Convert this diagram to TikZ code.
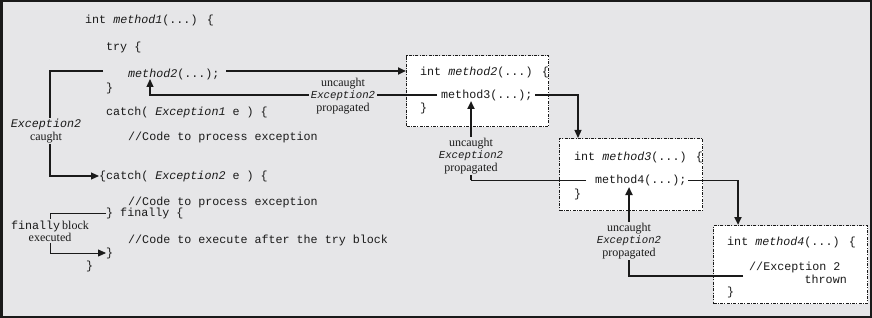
\documentclass[tikz,border=0pt]{standalone}
\usepackage{fontspec}
\setmainfont{Liberation Serif}
\newfontfamily\cmono{Liberation Mono}
\usetikzlibrary{arrows.meta}
\definecolor{bgc}{HTML}{E6E6E8}
\definecolor{ink}{HTML}{1A1A1A}
\newcommand{\codefnt}{\cmono\fontsize{11.7}{13}\selectfont}
\newcommand{\lblmono}{\cmono\fontsize{10.7}{12}\selectfont}
\newcommand{\lblfnt}{\fontsize{12}{12.2}\selectfont}
\tikzset{
  code/.style={font=\codefnt, anchor=west, inner sep=0pt, text=ink},
  lbl/.style={font=\lblfnt, align=center, inner sep=1.5pt, fill=bgc, text=ink},
  mbox/.style={draw=ink, fill=white, line width=1.1pt, dash pattern=on 3pt off 1.3pt on 1pt off 1.3pt, anchor=north west, inner sep=0pt},
  arr/.style={-{Triangle[length=8pt,width=7pt]}},
  thn/.style={draw=ink, line width=0.8pt},
  med/.style={draw=ink, line width=1.2pt},
  thk/.style={draw=ink, line width=2pt},
}
\begin{document}
\begin{tikzpicture}[x=1pt,y=-1pt]
\useasboundingbox (0,0) rectangle (872,318);
\draw[fill=bgc, draw=ink, line width=2.5pt] (1.25,1.25) rectangle (870.75,316.75);

% boxes
\node[mbox, minimum width=142pt, minimum height=71pt] (b2) at (406,55) {};
\node[mbox, minimum width=143pt, minimum height=72pt] (b3) at (559,138) {};
\node[mbox, minimum width=154pt, minimum height=78pt] (b4) at (713,225) {};

% method1 code
\node[code] (l1) at (85,20) {int \textit{method1}(...) \{};
\node[code] (l2) at (106,47) {try \{};
\node[code] (m2call) at (128,74) {\textit{method2}(...);};
\node[code] (l4) at (106,88) {\}};
\node[code] (l5) at (106,112) {catch( \textit{Exception1} e ) \{};
\node[code] (l6) at (128,137) {//Code to process exception};
\node[code] (l7) at (99,176) {\{catch( \textit{Exception2} e ) \{};
\node[code] (l8) at (128,202) {//Code to process exception};
\node[code] (l9) at (106,213) {\} finally \{};
\node[code] (l10) at (128,240) {//Code to execute after the try block};
\node[code] (l11) at (106,253) {\}};
\node[code] (l12) at (86,266) {\}};

% box texts
\node[code] (b2a) at (420,72) {int \textit{method2}(...) \{};
\node[code] (m3call) at (441,95) {method3(...);};
\node[code] (b2c) at (420,108) {\}};
\node[code] (b3a) at (574,157) {int \textit{method3}(...) \{};
\node[code] (m4call) at (595,180) {method4(...);};
\node[code] (b3c) at (574,194) {\}};
\node[code] (b4a) at (727,242) {int \textit{method4}(...) \{};
\node[code] (b4b) at (749,267) {//Exception 2};
\node[code, anchor=east] (b4c) at (847,279) {thrown};
\node[code] (b4d) at (727,292) {\}};

% coordinates
\coordinate (c2r) at (103,71);
\coordinate (c2l) at (50,71);
\coordinate (f1) at (50,213);
\coordinate (a1) at (226,71);
\coordinate (r1s) at (437,95);
\coordinate (r1c) at (150,95);
\coordinate (r1t) at (150,79);
\coordinate (o3s) at (535,95);
\coordinate (o3c) at (578,95);
\coordinate (r2s) at (586,180);
\coordinate (r2c) at (471,180);
\coordinate (r2t) at (471,101);
\coordinate (o4s) at (688,180);
\coordinate (o4c) at (738,180);
\coordinate (r3s) at (743,276);
\coordinate (r3c) at (629,276);
\coordinate (r3t) at (629,187);

% left labels
\node[font=\lblfnt, align=center, inner sep=1pt, text=ink] (caught) at (46,131) {{\codefnt\textit{Exception2}}\\caught};
\node[font=\lblfnt, align=center, inner sep=1pt, text=ink] (fin) at (50,231) {{\codefnt finally}\,block\\executed};

% caught bracket
\draw[med] (c2r) -- (c2l) -- (c2l |- caught.north);
\draw[med, arr] (c2l |- caught.south) -- (c2l |- l7) -- (l7.west);
% finally bracket
\draw[thn] (l9.west) -- (f1) -- (f1 |- fin.north);
\draw[thn, arr] (f1 |- fin.south) -- (f1 |- l11) -- (l11.west);

% call method2
\draw[thk, arr] (a1) -- (a1 -| b2.west);
% return 1
\draw[med, arr] (r1s) -- (r1c) -- (r1t);
\node[lbl] (lab1) at (343,96) {uncaught\\{\lblmono\textit{Exception2}}\\propagated};
% method3 out
\draw[med, arr] (o3s) -- (o3c) -- (o3c |- b3.north);
% return 2
\draw[thn] (r2s) -- (r2c);
\draw[thk, arr] (r2c) -- (r2t);
\node[lbl] (lab2) at (471,156) {uncaught\\{\lblmono\textit{Exception2}}\\propagated};
% method4 out
\draw[thn] (o4s) -- (o4c);
\draw[thk, arr] (o4c) -- (o4c |- b4.north);
% return 3
\draw[thk, arr] (r3s) -- (r3c) -- (r3t);
\node[lbl] (lab3) at (629,241) {uncaught\\{\lblmono\textit{Exception2}}\\propagated};
\end{tikzpicture}
\end{document}
